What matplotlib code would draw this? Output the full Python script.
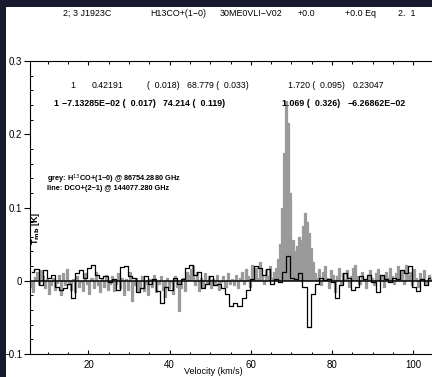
import matplotlib
matplotlib.use('Agg')
import matplotlib.pyplot as plt
import numpy as np
from matplotlib.patches import Rectangle
from matplotlib.ticker import MultipleLocator

plt.rcParams['font.family'] = ['Liberation Sans', 'DejaVu Sans']

# grey spectrum: H13CO+(1-0), 0.5 km/s channels starting at 5.75 km/s
grey_v0, grey_dv = 5.75, 0.5
grey_t = [
    -0.008, -0.015, 0.005, 0.012, -0.004, 0.014, 0.006, -0.010, 0.003, -0.018,
    -0.006, 0.004, -0.012, -0.003, 0.008, -0.020, 0.010, -0.006, 0.016, -0.004,
    -0.012, 0.002, -0.016, 0.006, -0.008, -0.002, -0.014, 0.010, -0.005, -0.018,
    0.004, -0.010, 0.012, -0.006, -0.015, 0.002, -0.009, 0.008, -0.012, -0.004,
    0.006, -0.014, -0.004, 0.010, -0.010, 0.004, -0.020, 0.002, -0.012, 0.012,
    -0.028, -0.006, 0.004, -0.016, -0.010, 0.006, -0.014, -0.004, -0.020, 0.002,
    -0.008, 0.008, -0.016, -0.004, 0.006, -0.012, -0.022, 0.004, -0.010, -0.002,
    -0.018, 0.006, -0.008, -0.041, -0.010, 0.004, -0.014, 0.012, 0.008, 0.016,
    0.020, -0.006, 0.012, -0.014, 0.004, -0.008, 0.010, -0.004, 0.006, -0.010,
    0.002, -0.006, 0.008, -0.012, -0.002, 0.006, -0.008, 0.010, -0.004, 0.002,
    -0.006, 0.008, -0.010, 0.004, 0.012, -0.004, 0.016, 0.006, -0.008, 0.022,
    0.010, 0.018, 0.004, 0.026, 0.008, -0.004, 0.014, 0.006, 0.020, 0.004,
    0.012, 0.018, 0.030, 0.050, 0.100, 0.175, 0.245, 0.215, 0.120, 0.055,
    0.040, 0.048, 0.060, 0.055, 0.075, 0.093, 0.080, 0.065, 0.045, 0.025,
    0.010, 0.004, 0.016, -0.006, 0.012, 0.020, 0.004, -0.010, 0.014, 0.008,
    -0.016, 0.006, 0.018, -0.004, 0.010, 0.002, 0.014, -0.008, 0.006, 0.018,
    0.022, 0.006, -0.004, 0.012, 0.002, -0.010, 0.008, 0.014, 0.004, -0.006,
    0.010, 0.016, 0.002, 0.008, -0.008, 0.012, 0.004, 0.018, 0.006, -0.004,
    0.010, 0.020, 0.004, 0.014, -0.004, 0.022, 0.008, 0.012, -0.006, 0.016,
    0.004, -0.008, 0.010, 0.002, 0.014, -0.004, 0.008, 0.002, 0.010, 0.004,
]

# black line: DCO+(2-1), 1 km/s channels starting at 6.2 km/s
line_v0, line_dv = 6.2, 1.0
line_t = [
    0.012, 0.016, -0.006, 0.014, 0.004, 0.008, -0.008, -0.012, -0.010, -0.005,
    -0.024, 0.010, 0.014, 0.004, 0.018, 0.021, 0.008, 0.004, 0.006, -0.002,
    0.003, -0.012, 0.019, 0.020, 0.006, 0.004, -0.016, -0.010, 0.006, -0.004,
    0.002, -0.014, -0.030, -0.008, -0.012, 0.004, -0.004, 0.002, 0.018, 0.021,
    0.008, 0.012, -0.010, -0.004, 0.006, -0.006, -0.004, -0.010, -0.018, -0.034,
    -0.030, -0.034, -0.024, -0.012, 0.002, 0.020, 0.018, 0.008, 0.016, -0.004,
    0.002, -0.002, 0.012, 0.034, 0.004, 0.002, 0.010, -0.008, -0.063, -0.018,
    -0.004, 0.004, 0.001, 0.002, -0.002, -0.024, -0.006, 0.010, 0.004, -0.012,
    -0.008, 0.006, 0.002, 0.008, -0.002, -0.016, 0.008, 0.002, -0.002, 0.004,
    0.002, 0.014, 0.010, 0.020, -0.008, -0.014, 0.002, -0.006, 0.004,
]

xticks = [20, 40, 60, 80, 100]
yticks = [-0.1, 0, 0.1, 0.2, 0.3]
ytick_labels = ['\u22120.1', '0', '0.1', '0.2', '0.3']

header = [(63, '2; 3 J1923C'), (150, 'H13CO+(1\u22120)'), (220, '30ME0VLI\u2212V02'),
          (298, '+0.0'), (345, '+0.0 Eq'), (398, '2.  1')]
fit_row1 = [(70, '1'), (92, '0.42191'), (147, '(  0.018)'), (187, '68.779 (  0.033)'),
            (288, '1.720 (  0.095)'), (353, '0.23047')]
fit_row2 = [(53, '1'), (62, '\u22127.13285E\u221202 (  0.017)'), (163, '74.214 (  0.119)'),
            (282, '1.069 (  0.326)'), (348, '\u22126.26862E\u221202')]

grey_v = grey_v0 + grey_dv * np.arange(len(grey_t))
line_v = line_v0 + line_dv * np.arange(len(line_t))

W, H = 432, 377
fig = plt.figure(figsize=(W / 100, H / 100), dpi=100, facecolor='#181a2e')
fig.add_artist(Rectangle((6 / W, 0), 1, 1 - 7 / H, transform=fig.transFigure,
                         facecolor='white', edgecolor='none', zorder=0))

def fpos(x, y):
    return x / W, 1 - y / H

ax = fig.add_axes([30 / W, 1 - 354 / H, (434 - 30) / W, (354 - 61) / H])
ax.set_facecolor('white')

grey = '#9a9a9a'
ax.fill_between(grey_v, grey_t, 0, step='mid', color=grey, lw=0)
ax.step(grey_v, grey_t, where='mid', color=grey, lw=0.9)
ax.axhline(0, color='black', lw=1.1)
ax.step(line_v, line_t, where='mid', color='black', lw=0.9)

ax.set_xlim(5.6, 105.1)
ax.set_ylim(-0.1, 0.3)
ax.set_xticks(xticks)
ax.set_yticks(yticks)
ax.set_yticklabels(ytick_labels)
ax.xaxis.set_minor_locator(MultipleLocator(5))
ax.yaxis.set_minor_locator(MultipleLocator(0.02))
ax.tick_params(axis='x', which='major', direction='in', length=3.2, width=0.8,
               top=True, labelsize=7, pad=4)
ax.tick_params(axis='x', which='minor', direction='in', length=1.8, width=0.7, top=True)
ax.tick_params(axis='y', which='major', direction='out', length=4.5, width=0.8,
               right=True, labelsize=7, pad=1)
ax.tick_params(axis='y', which='minor', direction='in', length=1.8, width=0.7, right=True)
for s in ax.spines.values():
    s.set_linewidth(0.8)

for x, s in header:
    fig.text(*fpos(x, 13), s, fontsize=6.4, va='center', ha='left')
for x, s in fit_row1:
    fig.text(*fpos(x, 85), s, fontsize=6.3, va='center', ha='left')
for x, s in fit_row2:
    fig.text(*fpos(x, 103), s, fontsize=6.4, va='center', ha='left', fontweight='bold')

fig.text(*fpos(47, 179), 'grey: H$^{13}$CO+(1\u22120) @ 86754.2880 GHz', fontsize=5.3,
         va='center', ha='left', fontweight='bold')
fig.text(*fpos(47, 189), 'line: DCO+(2\u22121) @ 144077.280 GHz', fontsize=5.3,
         va='center', ha='left', fontweight='bold')
fig.text(*fpos(35, 228), 'T$_{\\mathbf{mb}}$ [K]', fontsize=6.5, rotation=90, va='center',
         ha='center', fontweight='bold')
fig.text(*fpos(213, 371), 'Velocity (km/s)', fontsize=6.5, va='center', ha='center')

fig.savefig('out.png', dpi=100, facecolor=fig.get_facecolor())
